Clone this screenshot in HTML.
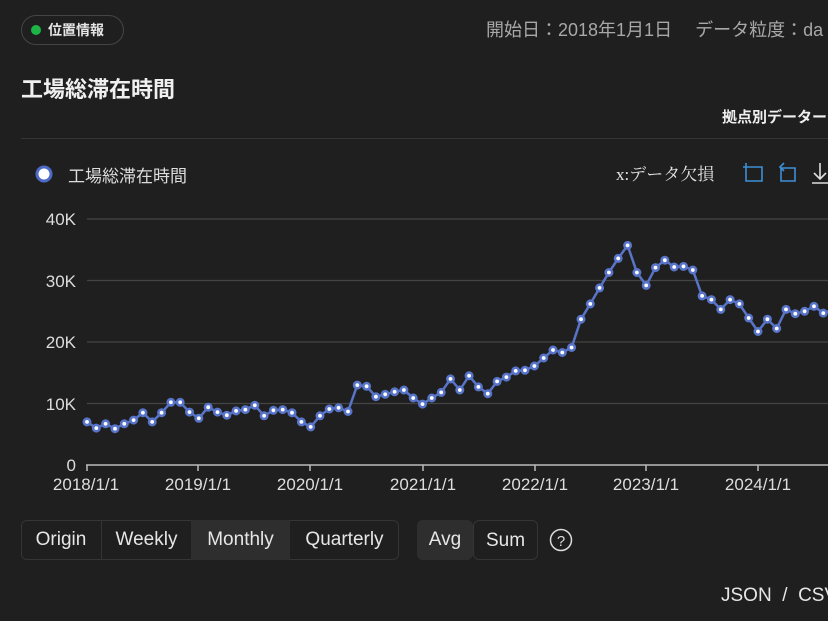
<!DOCTYPE html>
<html><head><meta charset="utf-8"><style>
body{margin:0;width:828px;height:621px;background:#1f1f1f;overflow:hidden;font-family:"Liberation Sans","Noto Sans CJK JP",sans-serif;color:#e6e6e6;position:relative}
.a{position:absolute;white-space:nowrap}
.pill{left:21px;top:15px;width:103px;height:30px;border:1px solid #454545;border-radius:15px;box-sizing:border-box;font-size:14px;font-weight:bold;line-height:28px;padding-left:26px}
.pill:before{content:"";position:absolute;left:9px;top:9px;width:10px;height:10px;border-radius:50%;background:#1db446}
.seg{position:absolute;top:520px;height:40px;line-height:40px;font-size:19px;text-align:center;box-sizing:border-box;color:#e6e6e6}
</style></head><body>
<div class="a pill">位置情報</div>
<div class="a" style="left:486px;top:16px;font-size:18px;color:#a8a8a8">開始日：2018年1月1日　 データ粒度：da</div>
<div class="a" style="left:21px;top:72px;font-size:22px;font-weight:bold;color:#f0f0f0">工場総滞在時間</div>
<div class="a" style="left:722px;top:106px;font-size:15px;font-weight:bold;color:#f0f0f0">拠点別データー</div>
<div class="a" style="left:21px;top:138px;width:807px;height:1px;background:#353535"></div>
<div class="a" style="left:68px;top:162px;font-size:17px;color:#ddd">工場総滞在時間</div>
<div class="a" style="left:616px;top:160px;font-size:17px;color:#e6e6e6;font-family:'Liberation Serif','Noto Serif CJK SC',serif">x:データ欠損</div>
<svg class="a" style="left:0;top:0" width="828" height="621">
<circle cx="44" cy="174" r="7" fill="#fff" stroke="#4d6bc6" stroke-width="3"/>
<g fill="none" stroke="#3d8fd6" stroke-width="1.6">
<path d="M746 163v18h16v-14h-12M743 167h7"/>
<path d="M781 168h14v13h-14v-13M784 163l-4 4 4 4"/>
</g>
<path d="M820 163v16M814 173l6 6 6-6M812 183h16" fill="none" stroke="#ddd" stroke-width="1.6"/>
<g stroke="#444" stroke-width="1.2">
<line x1="87" x2="828" y1="219" y2="219"/><line x1="87" x2="828" y1="280.5" y2="280.5"/>
<line x1="87" x2="828" y1="342" y2="342"/><line x1="87" x2="828" y1="403.5" y2="403.5"/>
</g>
<g stroke="#bbb" stroke-width="1.5"><line x1="86" x2="828" y1="465" y2="465"/>
<line x1="87" x2="87" y1="465" y2="471"/><line x1="198" x2="198" y1="465" y2="471"/><line x1="310" x2="310" y1="465" y2="471"/><line x1="423" x2="423" y1="465" y2="471"/><line x1="535" x2="535" y1="465" y2="471"/><line x1="646" x2="646" y1="465" y2="471"/><line x1="758" x2="758" y1="465" y2="471"/></g>
<g fill="#ddd" font-size="17" text-anchor="end"><text x="76" y="225">40K</text><text x="76" y="287">30K</text><text x="76" y="348">20K</text><text x="76" y="410">10K</text><text x="76" y="471">0</text></g>
<g fill="#ddd" font-size="17" text-anchor="middle"><text x="86" y="490">2018/1/1</text><text x="198" y="490">2019/1/1</text><text x="310" y="490">2020/1/1</text><text x="423" y="490">2021/1/1</text><text x="535" y="490">2022/1/1</text><text x="646" y="490">2023/1/1</text><text x="758" y="490">2024/1/1</text></g>
<g id="s"></g>
<circle cx="561" cy="540" r="10.5" fill="none" stroke="#ddd" stroke-width="1.5"/>
<text x="561" y="546" font-size="15" fill="#ddd" text-anchor="middle">?</text>
</svg>
<div class="a" style="left:21px;top:520px;width:378px;height:40px;border:1px solid #353535;border-radius:6px;box-sizing:border-box"></div>
<div class="seg" style="left:21px;width:80px">Origin</div>
<div class="seg" style="left:101px;width:90px;border-left:1px solid #353535">Weekly</div>
<div class="seg" style="left:191px;width:99px;background:#2e2e2e">Monthly</div>
<div class="seg" style="left:290px;width:109px">Quarterly</div>
<div class="seg" style="left:417px;width:56px;background:#2e2e2e;border-radius:6px">Avg</div>
<div class="seg" style="left:473px;width:65px;border:1px solid #353535;border-radius:6px">Sum</div>
<div class="a" style="left:721px;top:585px;font-size:19px;color:#e6e6e6">JSON &nbsp;/ &nbsp;CSV</div>
<script>
var v=[7.0,6.0,6.7,5.9,6.7,7.3,8.5,7.0,8.5,10.2,10.2,8.6,7.6,9.4,8.6,8.1,8.8,9.0,9.7,8.0,8.9,9.0,8.5,7.0,6.2,8.0,9.1,9.3,8.7,13.0,12.8,11.1,11.5,11.9,12.2,10.9,9.9,10.9,11.8,14.0,12.2,14.5,12.7,11.6,13.6,14.3,15.3,15.4,16.1,17.4,18.7,18.3,19.1,23.7,26.2,28.8,31.3,33.6,35.7,31.3,29.2,32.1,33.3,32.2,32.3,31.7,27.5,26.9,25.3,26.9,26.2,23.9,21.7,23.7,22.2,25.3,24.6,25.0,25.8,24.7,25.2];
var p=v.map(function(d,i){return [87+i*9.32,465-d*6.15]});
var s='<polyline fill="none" stroke="#5874c8" stroke-width="2.5" stroke-linejoin="round" points="'+p.map(function(q){return q[0].toFixed(1)+','+q[1].toFixed(1)}).join(' ')+'"/>';
p.forEach(function(q){s+='<circle cx="'+q[0].toFixed(1)+'" cy="'+q[1].toFixed(1)+'" r="3.2" fill="#fff" stroke="#5874c8" stroke-width="2.6"/>'});
document.getElementById('s').innerHTML=s;
</script>
</body></html>
